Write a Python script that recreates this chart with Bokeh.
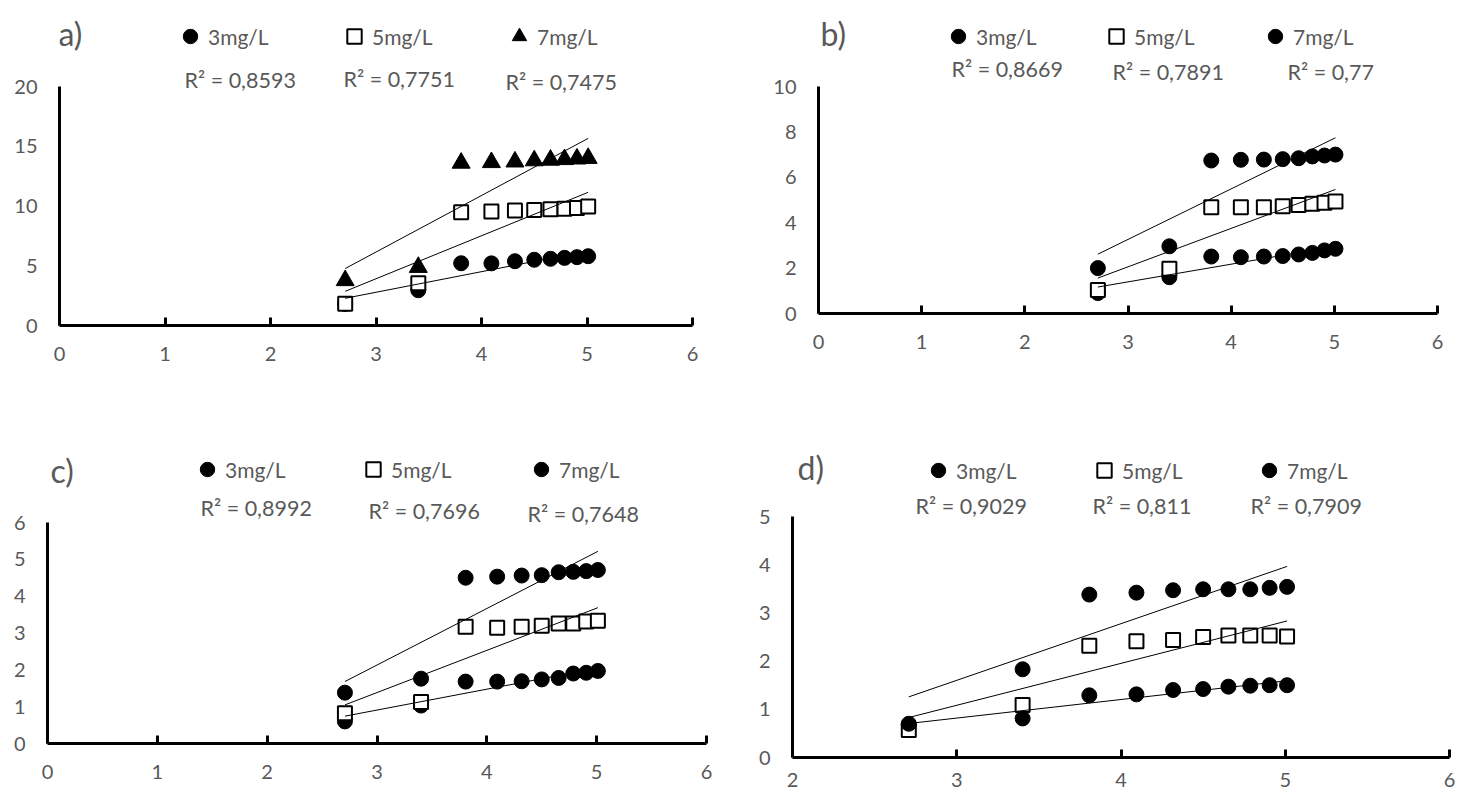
import numpy as np
from bokeh.plotting import figure
from bokeh.layouts import column, row
from bokeh.models import Label, Legend, LegendItem, FixedTicker, Range1d
from bokeh.embed import file_html
from bokeh.resources import INLINE

# ---------------- data ----------------
x_vals = [2.708, 3.401, 3.807, 4.094, 4.317, 4.500, 4.654, 4.787, 4.905, 5.011]
series_names = ["3mg/L", "5mg/L", "7mg/L"]

a_3 = [1.80, 2.95, 5.21, 5.20, 5.38, 5.50, 5.58, 5.66, 5.72, 5.80]
a_5 = [1.81, 3.54, 9.48, 9.53, 9.62, 9.67, 9.72, 9.78, 9.83, 9.96]
a_7 = [3.77, 4.88, 13.60, 13.65, 13.70, 13.80, 13.85, 13.90, 13.95, 14.00]
a_r2 = ["R² = 0,8593", "R² = 0,7751", "R² = 0,7475"]

b_3 = [0.90, 1.60, 2.51, 2.48, 2.51, 2.53, 2.60, 2.67, 2.78, 2.85]
b_5 = [1.04, 1.97, 4.68, 4.68, 4.68, 4.73, 4.78, 4.83, 4.88, 4.93]
b_7 = [2.00, 2.96, 6.74, 6.77, 6.78, 6.80, 6.84, 6.92, 6.96, 7.00]
b_r2 = ["R² = 0,8669", "R² = 0,7891", "R² = 0,77"]

c_3 = [0.60, 1.03, 1.68, 1.68, 1.69, 1.74, 1.78, 1.90, 1.92, 1.97]
c_5 = [0.82, 1.13, 3.17, 3.14, 3.17, 3.20, 3.26, 3.26, 3.31, 3.33]
c_7 = [1.38, 1.76, 4.50, 4.53, 4.56, 4.57, 4.65, 4.66, 4.68, 4.71]
c_r2 = ["R² = 0,8992", "R² = 0,7696", "R² = 0,7648"]

d_3 = [0.68, 0.81, 1.29, 1.31, 1.40, 1.42, 1.47, 1.49, 1.50, 1.50]
d_5 = [0.57, 1.09, 2.32, 2.41, 2.44, 2.50, 2.53, 2.53, 2.53, 2.51]
d_7 = [0.70, 1.83, 3.38, 3.42, 3.47, 3.49, 3.49, 3.49, 3.52, 3.54]
d_r2 = ["R² = 0,9029", "R² = 0,811", "R² = 0,7909"]

x_ticks_a = [0, 1, 2, 3, 4, 5, 6]
x_ticks_d = [2, 3, 4, 5, 6]
y_ticks_a = [0, 5, 10, 15, 20]
y_ticks_b = [0, 2, 4, 6, 8, 10]
y_ticks_c = [0, 1, 2, 3, 4, 5, 6]
y_ticks_d = [0, 1, 2, 3, 4, 5]

TXT = "#595959"
FONT = "Lato"


def make_panel(spec):
    ox, oy, W, H = spec["fig"]
    L, R, T, B = spec["frame"]          # axis extents in page pixels
    x0, x1 = spec["xr"]
    y0, y1 = spec["yr"]
    top_pad = 3
    FT = oy + top_pad                     # frame top (page px)
    upy = y1 + (T - FT) / (B - T) * (y1 - y0)
    p = figure(width=W, height=H, output_backend="svg", toolbar_location=None,
               x_range=Range1d(x0, x1), y_range=Range1d(y0, upy),
               min_border_left=L - ox, min_border_right=(ox + W) - R,
               min_border_top=top_pad, min_border_bottom=(oy + H) - B)
    p.outline_line_color = None
    p.grid.visible = False
    p.background_fill_color = "white"
    p.border_fill_color = "white"

    p.xaxis.ticker = FixedTicker(ticks=spec["xt"])
    p.yaxis.ticker = FixedTicker(ticks=spec["yt"])
    p.xaxis.bounds = (x0, x1)
    p.yaxis.bounds = (y0, y1)
    for ax in (p.xaxis, p.yaxis):
        ax.axis_line_width = 3
        ax.axis_line_color = "black"
        ax.major_label_text_font = FONT
        ax.major_label_text_font_size = "20px"
        ax.major_label_text_color = TXT
        ax.minor_tick_line_color = None
    p.xaxis.major_tick_in = 8
    p.xaxis.major_tick_out = 0
    p.xaxis.major_tick_line_width = 3
    p.xaxis.major_tick_line_color = "black"
    p.xaxis.major_label_standoff = spec["xstand"]
    p.yaxis.major_tick_line_color = None
    p.yaxis.major_label_standoff = 16

    def to_data(px, py):
        dx = x0 + (px - L) / (R - L) * (x1 - x0)
        dy = y0 + (B - py) / (B - T) * (y1 - y0)
        return dx, dy

    renderers = []
    for ys, mk in zip(spec["series"], spec["markers"]):
        if mk == "square":
            r = p.scatter(x_vals, ys, marker="square", size=14, fill_color="white",
                          line_color="black", line_width=2)
        elif mk == "triangle":
            r = p.scatter(x_vals, ys, marker="triangle", size=18, fill_color="black",
                          line_color="black", line_width=1)
        else:
            r = p.scatter(x_vals, ys, marker="circle", size=15, fill_color="black",
                          line_color="black", line_width=1)
        renderers.append(r)
    # linear trendlines (least squares)
    for ys in spec["series"]:
        k, b = np.polyfit(x_vals, ys, 1)
        xa, xb = min(x_vals), max(x_vals)
        p.line([xa, xb], [k * xa + b, k * xb + b], line_color="black", line_width=1)

    # panel letter
    lx, ly = to_data(*spec["letter_pos"])
    p.add_layout(Label(x=lx, y=ly, text=spec["letter"], text_font=FONT,
                       text_font_size="32px", text_color=TXT,
                       text_align="left", text_baseline="middle"))
    # legends
    G = 36
    for r, name, (cx, cy) in zip(renderers, series_names, spec["legend_pos"]):
        lg = Legend(items=[LegendItem(label=name, renderers=[r])],
                    location=(cx - 2 - G / 2 - L, B - (cy + G / 2)),
                    orientation="horizontal", glyph_width=G, glyph_height=G,
                    label_standoff=-8, padding=0, margin=0, spacing=0,
                    border_line_alpha=0, background_fill_alpha=0,
                    label_text_font=FONT, label_text_font_size="21px",
                    label_text_color=TXT, label_text_baseline="middle")
        p.add_layout(lg)
    # R^2 texts
    for txt, (px, py) in zip(spec["r2"], spec["r2_pos"]):
        dx, dy = to_data(px, py)
        p.add_layout(Label(x=dx, y=dy, text=txt, text_font=FONT,
                           text_font_size="21.5px", text_color=TXT,
                           text_align="left", text_baseline="middle"))
    return p


spec_a = dict(fig=(0, 0, 740, 388), frame=(59, 692, 86, 325), xr=(0, 6), yr=(0, 20),
              xt=x_ticks_a, yt=y_ticks_a, xstand=21,
              series=[a_3, a_5, a_7], markers=["circle", "square", "triangle"],
              letter="a)", letter_pos=(58, 33),
              legend_pos=[(192, 36), (356, 36), (521, 36)],
              r2=a_r2, r2_pos=[(184, 79), (343, 78), (505, 81)])
spec_b = dict(fig=(740, 0, 730, 388), frame=(818, 1437, 86, 313), xr=(0, 6), yr=(0, 10),
              xt=x_ticks_a, yt=y_ticks_b, xstand=21,
              series=[b_3, b_5, b_7], markers=["circle", "square", "circle"],
              letter="b)", letter_pos=(820, 33),
              legend_pos=[(960, 36), (1118, 36), (1277, 36)],
              r2=b_r2, r2_pos=[(951, 68), (1112, 71), (1287, 71)])
spec_c = dict(fig=(0, 388, 740, 409), frame=(47, 706, 522, 743), xr=(0, 6), yr=(0, 6),
              xt=x_ticks_a, yt=y_ticks_c, xstand=21,
              series=[c_3, c_5, c_7], markers=["circle", "square", "circle"],
              letter="c)", letter_pos=(50, 470),
              legend_pos=[(209, 469), (375, 469), (543, 469)],
              r2=c_r2, r2_pos=[(200, 507), (368, 510), (527, 513)])
spec_d = dict(fig=(740, 388, 730, 409), frame=(792, 1449, 516, 757), xr=(2, 6), yr=(0, 5),
              xt=x_ticks_d, yt=y_ticks_d, xstand=15,
              series=[d_3, d_5, d_7], markers=["circle", "square", "circle"],
              letter="d)", letter_pos=(797, 467),
              legend_pos=[(940, 470), (1106, 470), (1271, 470)],
              r2=d_r2, r2_pos=[(915, 505), (1092, 505), (1250, 505)])

pa = make_panel(spec_a)
pb = make_panel(spec_b)
pc = make_panel(spec_c)
pd_ = make_panel(spec_d)

# wrap each figure so the row does not align the frames of its two plots
layout = column(row(column(pa), column(pb)), row(column(pc), column(pd_)))
open("out.html", "w").write(file_html(layout, INLINE))
